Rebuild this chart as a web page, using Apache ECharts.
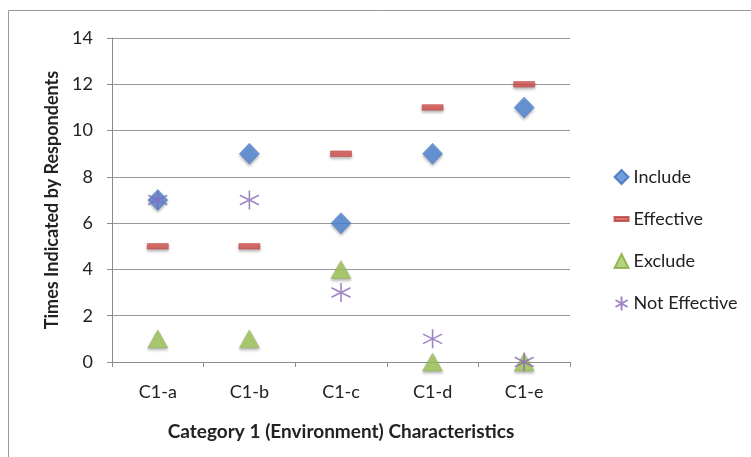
<!DOCTYPE html>
<html>
<head>
<meta charset="utf-8">
<script src="https://cdn.jsdelivr.net/npm/echarts@6/dist/echarts.min.js"></script>
<style>
  html, body { margin: 0; padding: 0; background: #fff; }
  #chart { width: 751px; height: 457px; }
</style>
</head>
<body>
<div id="chart"></div>
<script>
// Characteristics in category 1 (environment)
const categories = ['C1-a', 'C1-b', 'C1-c', 'C1-d', 'C1-e'];

// Number of times each answer was given
const includeValues = [7, 9, 6, 9, 11];
const effectiveValues = [5, 5, 9, 11, 12];
const excludeValues = [1, 1, 4, 0, 0];
const notEffectiveValues = [7, 7, 3, 1, 0];

const yTicks = { min: 0, max: 14, interval: 2 };

const FONT = 'Lato, "Open Sans", sans-serif';
const shadow = { shadowBlur: 3, shadowOffsetY: 2, shadowColor: 'rgba(0,0,0,0.35)' };
const asterisk = 'path://M5,0L5,10M0.67,2.5L9.33,7.5M0.67,7.5L9.33,2.5';

const chart = echarts.init(document.getElementById('chart'), null, { renderer: 'canvas' });

chart.setOption({
  animation: false,
  backgroundColor: '#ffffff',
  textStyle: { fontFamily: FONT },
  graphic: [{
    type: 'rect',
    shape: { x: 8.5, y: 10.5, width: 900, height: 600 },
    style: { fill: 'none', stroke: '#9a9a9a', lineWidth: 1 },
    silent: true
  }],
  grid: { left: 112, right: 181, top: 38, bottom: 95 },
  legend: {
    orient: 'vertical',
    left: 608,
    top: 163,
    itemWidth: 14,
    itemHeight: 14,
    itemGap: 24,
    textStyle: { fontFamily: FONT, fontSize: 18, color: '#222' },
    data: [
      { name: 'Include', icon: 'diamond' },
      { name: 'Effective', icon: 'path://M0,0h14v4h-14z' },
      { name: 'Exclude', icon: 'triangle' },
      { name: 'Not Effective', icon: asterisk }
    ]
  },
  xAxis: {
    type: 'category',
    data: categories,
    boundaryGap: true,
    axisLine: { show: true, lineStyle: { color: '#8c8c8c', width: 1 } },
    axisTick: { show: true, length: 5, lineStyle: { color: '#8c8c8c' } },
    axisLabel: { fontFamily: FONT, fontSize: 18, color: '#222', margin: 21 },
    name: 'Category 1 (Environment) Characteristics',
    nameLocation: 'middle',
    nameGap: 60,
    nameTextStyle: { fontFamily: FONT, fontSize: 19, fontWeight: 'bold', color: '#222' }
  },
  yAxis: {
    type: 'value',
    min: yTicks.min,
    max: yTicks.max,
    interval: yTicks.interval,
    axisLine: { show: true, lineStyle: { color: '#8c8c8c', width: 1 } },
    axisTick: { show: true, length: 5, lineStyle: { color: '#8c8c8c' } },
    splitLine: { show: true, lineStyle: { color: '#9a9a9a', width: 1 } },
    axisLabel: { fontFamily: FONT, fontSize: 18, color: '#222', margin: 19 },
    name: 'Times Indicated by Respondents',
    nameLocation: 'middle',
    nameGap: 46,
    nameTextStyle: { fontFamily: FONT, fontSize: 18, fontWeight: 'bold', color: '#222' }
  },
  series: [
    {
      name: 'Include',
      type: 'scatter',
      data: includeValues,
      symbol: 'diamond',
      symbolSize: [20, 21],
      itemStyle: Object.assign({ color: '#4f86d6', borderColor: '#3d6fb8', borderWidth: 0.5 }, shadow),
      z: 2
    },
    {
      name: 'Effective',
      type: 'scatter',
      data: effectiveValues,
      symbol: 'rect',
      symbolSize: [21, 5.5],
      itemStyle: Object.assign({ color: '#d9534f', borderColor: '#b5403c', borderWidth: 0.5 }, shadow),
      z: 3
    },
    {
      name: 'Exclude',
      type: 'scatter',
      data: excludeValues,
      symbol: 'triangle',
      symbolSize: [20, 18],
      itemStyle: Object.assign({ color: '#a3c95a', borderColor: '#86aa45', borderWidth: 0.5 }, shadow),
      z: 3
    },
    {
      name: 'Not Effective',
      type: 'scatter',
      data: notEffectiveValues,
      symbol: asterisk,
      symbolSize: [19, 19],
      itemStyle: { color: 'none', borderColor: '#8a66b8', borderWidth: 1.6 },
      z: 4
    }
  ]
});
</script>
</body>
</html>
